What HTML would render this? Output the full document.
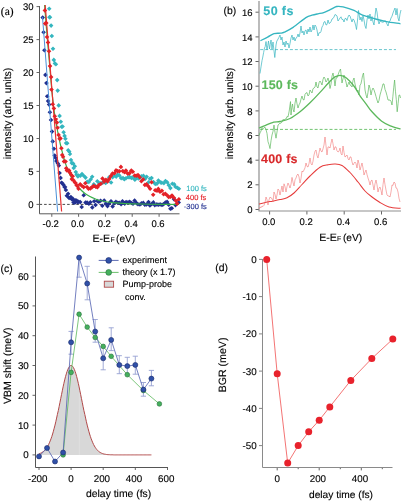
<!DOCTYPE html><html><head><meta charset="utf-8"><style>html,body{margin:0;padding:0;background:#fff;width:402px;height:501px;overflow:hidden}svg{display:block;will-change:transform}text{font-family:"Liberation Sans",sans-serif;text-rendering:geometricPrecision;stroke:currentColor;stroke-width:0.14px}</style></head><body>
<svg width="402" height="501" viewBox="0 0 402 501">
<text x="0.8" y="15" font-size="11.5" style="font-family:'Liberation Serif',serif">(a)</text>
<line x1="36.5" y1="204.4" x2="39.5" y2="204.4" stroke="#555" stroke-width="0.9"/>
<text x="33.5" y="207.6" font-size="9.5" text-anchor="end" fill="#000" style="color:#000" font-weight="normal">0</text>
<line x1="36.5" y1="171.4" x2="39.5" y2="171.4" stroke="#555" stroke-width="0.9"/>
<text x="33.5" y="174.6" font-size="9.5" text-anchor="end" fill="#000" style="color:#000" font-weight="normal">5</text>
<line x1="36.5" y1="138.5" x2="39.5" y2="138.5" stroke="#555" stroke-width="0.9"/>
<text x="33.5" y="141.7" font-size="9.5" text-anchor="end" fill="#000" style="color:#000" font-weight="normal">10</text>
<line x1="36.5" y1="105.5" x2="39.5" y2="105.5" stroke="#555" stroke-width="0.9"/>
<text x="33.5" y="108.7" font-size="9.5" text-anchor="end" fill="#000" style="color:#000" font-weight="normal">15</text>
<line x1="36.5" y1="72.5" x2="39.5" y2="72.5" stroke="#555" stroke-width="0.9"/>
<text x="33.5" y="75.7" font-size="9.5" text-anchor="end" fill="#000" style="color:#000" font-weight="normal">20</text>
<line x1="36.5" y1="39.6" x2="39.5" y2="39.6" stroke="#555" stroke-width="0.9"/>
<text x="33.5" y="42.8" font-size="9.5" text-anchor="end" fill="#000" style="color:#000" font-weight="normal">25</text>
<line x1="36.5" y1="6.6" x2="39.5" y2="6.6" stroke="#555" stroke-width="0.9"/>
<text x="33.5" y="9.8" font-size="9.5" text-anchor="end" fill="#000" style="color:#000" font-weight="normal">30</text>
<line x1="51.8" y1="214" x2="51.8" y2="216.8" stroke="#555" stroke-width="0.9"/>
<text x="50.7" y="227.2" font-size="9.5" text-anchor="middle" fill="#000" style="color:#000" font-weight="normal">-0.2</text>
<line x1="78.6" y1="214" x2="78.6" y2="216.8" stroke="#555" stroke-width="0.9"/>
<text x="77.5" y="227.2" font-size="9.5" text-anchor="middle" fill="#000" style="color:#000" font-weight="normal">0.0</text>
<line x1="105.4" y1="214" x2="105.4" y2="216.8" stroke="#555" stroke-width="0.9"/>
<text x="104.3" y="227.2" font-size="9.5" text-anchor="middle" fill="#000" style="color:#000" font-weight="normal">0.2</text>
<line x1="132.2" y1="214" x2="132.2" y2="216.8" stroke="#555" stroke-width="0.9"/>
<text x="131.1" y="227.2" font-size="9.5" text-anchor="middle" fill="#000" style="color:#000" font-weight="normal">0.4</text>
<line x1="159.1" y1="214" x2="159.1" y2="216.8" stroke="#555" stroke-width="0.9"/>
<text x="158.0" y="227.2" font-size="9.5" text-anchor="middle" fill="#000" style="color:#000" font-weight="normal">0.6</text>
<line x1="39.5" y1="204.4" x2="179" y2="204.4" stroke="#333" stroke-width="0.9" stroke-dasharray="2.6,2"/>
<path d="M42.7,15.3l2.3,2.3l-2.3,2.3l-2.3,-2.3zM43.6,30.0l2.3,2.3l-2.3,2.3l-2.3,-2.3zM44.4,48.0l2.3,2.3l-2.3,2.3l-2.3,-2.3zM45.4,72.6l2.3,2.3l-2.3,2.3l-2.3,-2.3zM46.4,80.8l2.3,2.3l-2.3,2.3l-2.3,-2.3zM47.2,94.0l2.3,2.3l-2.3,2.3l-2.3,-2.3zM48.1,98.8l2.3,2.3l-2.3,2.3l-2.3,-2.3zM49.1,102.3l2.3,2.3l-2.3,2.3l-2.3,-2.3zM49.9,110.0l2.3,2.3l-2.3,2.3l-2.3,-2.3zM51.0,117.7l2.3,2.3l-2.3,2.3l-2.3,-2.3zM52.0,129.3l2.3,2.3l-2.3,2.3l-2.3,-2.3zM52.7,139.1l2.3,2.3l-2.3,2.3l-2.3,-2.3zM53.9,146.4l2.3,2.3l-2.3,2.3l-2.3,-2.3zM54.7,153.3l2.3,2.3l-2.3,2.3l-2.3,-2.3zM55.5,155.4l2.3,2.3l-2.3,2.3l-2.3,-2.3zM56.4,158.8l2.3,2.3l-2.3,2.3l-2.3,-2.3zM57.9,161.2l2.3,2.3l-2.3,2.3l-2.3,-2.3zM58.8,163.3l2.3,2.3l-2.3,2.3l-2.3,-2.3zM59.6,170.7l2.3,2.3l-2.3,2.3l-2.3,-2.3zM60.6,175.6l2.3,2.3l-2.3,2.3l-2.3,-2.3zM61.5,180.4l2.3,2.3l-2.3,2.3l-2.3,-2.3zM62.4,180.9l2.3,2.3l-2.3,2.3l-2.3,-2.3zM63.4,182.5l2.3,2.3l-2.3,2.3l-2.3,-2.3zM64.5,184.7l2.3,2.3l-2.3,2.3l-2.3,-2.3zM65.1,184.7l2.3,2.3l-2.3,2.3l-2.3,-2.3zM65.9,187.7l2.3,2.3l-2.3,2.3l-2.3,-2.3zM66.8,193.4l2.3,2.3l-2.3,2.3l-2.3,-2.3zM68.1,191.5l2.3,2.3l-2.3,2.3l-2.3,-2.3zM68.8,195.5l2.3,2.3l-2.3,2.3l-2.3,-2.3zM69.9,195.6l2.3,2.3l-2.3,2.3l-2.3,-2.3zM70.9,194.8l2.3,2.3l-2.3,2.3l-2.3,-2.3zM71.8,196.9l2.3,2.3l-2.3,2.3l-2.3,-2.3zM73.0,196.6l2.3,2.3l-2.3,2.3l-2.3,-2.3zM73.5,200.1l2.3,2.3l-2.3,2.3l-2.3,-2.3zM74.9,200.3l2.3,2.3l-2.3,2.3l-2.3,-2.3zM75.8,197.9l2.3,2.3l-2.3,2.3l-2.3,-2.3zM76.9,198.5l2.3,2.3l-2.3,2.3l-2.3,-2.3zM77.6,199.9l2.3,2.3l-2.3,2.3l-2.3,-2.3zM78.6,199.4l2.3,2.3l-2.3,2.3l-2.3,-2.3zM80.2,199.8l2.3,2.3l-2.3,2.3l-2.3,-2.3zM81.7,204.7l2.3,2.3l-2.3,2.3l-2.3,-2.3zM83.7,192.9l2.3,2.3l-2.3,2.3l-2.3,-2.3zM85.5,200.3l2.3,2.3l-2.3,2.3l-2.3,-2.3zM87.1,200.3l2.3,2.3l-2.3,2.3l-2.3,-2.3zM88.9,201.5l2.3,2.3l-2.3,2.3l-2.3,-2.3zM90.4,200.0l2.3,2.3l-2.3,2.3l-2.3,-2.3zM92.3,205.1l2.3,2.3l-2.3,2.3l-2.3,-2.3zM94.2,199.0l2.3,2.3l-2.3,2.3l-2.3,-2.3zM95.5,202.7l2.3,2.3l-2.3,2.3l-2.3,-2.3zM97.3,198.7l2.3,2.3l-2.3,2.3l-2.3,-2.3zM98.8,199.4l2.3,2.3l-2.3,2.3l-2.3,-2.3zM100.6,198.5l2.3,2.3l-2.3,2.3l-2.3,-2.3zM102.3,203.5l2.3,2.3l-2.3,2.3l-2.3,-2.3zM104.2,198.2l2.3,2.3l-2.3,2.3l-2.3,-2.3zM105.9,201.4l2.3,2.3l-2.3,2.3l-2.3,-2.3zM107.5,203.8l2.3,2.3l-2.3,2.3l-2.3,-2.3zM109.2,200.9l2.3,2.3l-2.3,2.3l-2.3,-2.3zM111.0,198.9l2.3,2.3l-2.3,2.3l-2.3,-2.3zM112.6,204.1l2.3,2.3l-2.3,2.3l-2.3,-2.3zM114.3,200.8l2.3,2.3l-2.3,2.3l-2.3,-2.3zM115.9,199.6l2.3,2.3l-2.3,2.3l-2.3,-2.3zM117.6,200.4l2.3,2.3l-2.3,2.3l-2.3,-2.3zM119.2,200.4l2.3,2.3l-2.3,2.3l-2.3,-2.3zM121.1,202.0l2.3,2.3l-2.3,2.3l-2.3,-2.3zM122.5,198.9l2.3,2.3l-2.3,2.3l-2.3,-2.3zM124.7,201.3l2.3,2.3l-2.3,2.3l-2.3,-2.3zM126.1,199.8l2.3,2.3l-2.3,2.3l-2.3,-2.3zM128.0,200.1l2.3,2.3l-2.3,2.3l-2.3,-2.3zM129.7,199.4l2.3,2.3l-2.3,2.3l-2.3,-2.3zM131.4,200.7l2.3,2.3l-2.3,2.3l-2.3,-2.3zM133.0,201.4l2.3,2.3l-2.3,2.3l-2.3,-2.3zM134.6,198.2l2.3,2.3l-2.3,2.3l-2.3,-2.3zM136.5,200.8l2.3,2.3l-2.3,2.3l-2.3,-2.3zM138.0,201.9l2.3,2.3l-2.3,2.3l-2.3,-2.3zM139.9,202.2l2.3,2.3l-2.3,2.3l-2.3,-2.3zM141.4,201.1l2.3,2.3l-2.3,2.3l-2.3,-2.3zM143.3,200.6l2.3,2.3l-2.3,2.3l-2.3,-2.3zM144.8,202.5l2.3,2.3l-2.3,2.3l-2.3,-2.3zM146.5,202.2l2.3,2.3l-2.3,2.3l-2.3,-2.3zM148.5,199.8l2.3,2.3l-2.3,2.3l-2.3,-2.3zM149.9,203.1l2.3,2.3l-2.3,2.3l-2.3,-2.3zM151.8,201.6l2.3,2.3l-2.3,2.3l-2.3,-2.3zM153.4,200.1l2.3,2.3l-2.3,2.3l-2.3,-2.3zM154.8,202.8l2.3,2.3l-2.3,2.3l-2.3,-2.3zM156.9,202.1l2.3,2.3l-2.3,2.3l-2.3,-2.3zM158.3,202.5l2.3,2.3l-2.3,2.3l-2.3,-2.3zM160.1,202.1l2.3,2.3l-2.3,2.3l-2.3,-2.3zM162.0,202.6l2.3,2.3l-2.3,2.3l-2.3,-2.3zM163.5,201.9l2.3,2.3l-2.3,2.3l-2.3,-2.3zM165.4,200.2l2.3,2.3l-2.3,2.3l-2.3,-2.3zM167.1,199.6l2.3,2.3l-2.3,2.3l-2.3,-2.3zM168.7,202.5l2.3,2.3l-2.3,2.3l-2.3,-2.3zM170.4,206.5l2.3,2.3l-2.3,2.3l-2.3,-2.3zM171.8,206.0l2.3,2.3l-2.3,2.3l-2.3,-2.3zM173.9,196.8l2.3,2.3l-2.3,2.3l-2.3,-2.3zM175.5,202.8l2.3,2.3l-2.3,2.3l-2.3,-2.3zM176.9,201.4l2.3,2.3l-2.3,2.3l-2.3,-2.3zM178.7,200.2l2.3,2.3l-2.3,2.3l-2.3,-2.3z" fill="#223090"/>
<path d="M44.6,5.0 C44.9,9.2 45.8,20.8 46.6,30.0 C47.4,39.2 48.3,50.0 49.2,60.0 C50.1,70.0 51.0,81.7 51.8,90.0 C52.6,98.3 53.2,104.2 54.0,110.0 C54.8,115.8 55.7,120.3 56.5,125.0 C57.3,129.7 58.2,134.3 59.0,138.0 C59.8,141.7 60.3,144.2 61.0,147.0 C61.7,149.8 62.2,152.0 63.0,155.0 C63.8,158.0 64.8,161.7 66.0,165.0 C67.2,168.3 68.5,172.0 70.0,175.0 C71.5,178.0 73.3,180.7 75.0,183.0 C76.7,185.3 78.3,187.2 80.0,189.0 C81.7,190.8 83.3,192.2 85.0,193.5 C86.7,194.8 88.3,195.6 90.0,196.5 C91.7,197.4 93.3,198.1 95.0,198.8 C96.7,199.5 96.7,199.8 100.0,200.5 C103.3,201.2 108.3,202.2 115.0,202.8 C121.7,203.4 129.3,203.7 140.0,204.0 C150.7,204.3 172.5,204.4 179.0,204.5" fill="none" stroke="#38b04a" stroke-width="1.2"/>
<line x1="42.5" y1="17" x2="57.6" y2="211.5" stroke="#4a90d8" stroke-width="1"/>
<line x1="45.2" y1="5" x2="61.6" y2="211.5" stroke="#e83030" stroke-width="1.2"/>
<path d="M49.4,14.9l2.3,2.3l-2.3,2.3l-2.3,-2.3zM50.0,15.0l2.3,2.3l-2.3,2.3l-2.3,-2.3zM51.1,23.3l2.3,2.3l-2.3,2.3l-2.3,-2.3zM51.8,33.7l2.3,2.3l-2.3,2.3l-2.3,-2.3zM53.0,46.4l2.3,2.3l-2.3,2.3l-2.3,-2.3zM53.8,57.6l2.3,2.3l-2.3,2.3l-2.3,-2.3zM54.9,61.1l2.3,2.3l-2.3,2.3l-2.3,-2.3zM55.9,62.0l2.3,2.3l-2.3,2.3l-2.3,-2.3zM57.2,77.8l2.3,2.3l-2.3,2.3l-2.3,-2.3zM57.7,88.3l2.3,2.3l-2.3,2.3l-2.3,-2.3zM58.7,103.1l2.3,2.3l-2.3,2.3l-2.3,-2.3zM59.6,113.6l2.3,2.3l-2.3,2.3l-2.3,-2.3zM60.8,119.5l2.3,2.3l-2.3,2.3l-2.3,-2.3zM61.6,124.4l2.3,2.3l-2.3,2.3l-2.3,-2.3zM62.6,124.2l2.3,2.3l-2.3,2.3l-2.3,-2.3zM63.6,129.9l2.3,2.3l-2.3,2.3l-2.3,-2.3zM64.6,133.6l2.3,2.3l-2.3,2.3l-2.3,-2.3zM65.4,136.5l2.3,2.3l-2.3,2.3l-2.3,-2.3zM66.1,140.8l2.3,2.3l-2.3,2.3l-2.3,-2.3zM67.2,141.0l2.3,2.3l-2.3,2.3l-2.3,-2.3zM68.2,147.9l2.3,2.3l-2.3,2.3l-2.3,-2.3zM69.2,149.3l2.3,2.3l-2.3,2.3l-2.3,-2.3zM69.9,151.6l2.3,2.3l-2.3,2.3l-2.3,-2.3zM71.0,157.7l2.3,2.3l-2.3,2.3l-2.3,-2.3zM71.8,160.8l2.3,2.3l-2.3,2.3l-2.3,-2.3zM73.1,161.2l2.3,2.3l-2.3,2.3l-2.3,-2.3zM73.7,165.7l2.3,2.3l-2.3,2.3l-2.3,-2.3zM74.8,163.9l2.3,2.3l-2.3,2.3l-2.3,-2.3zM75.8,169.8l2.3,2.3l-2.3,2.3l-2.3,-2.3zM76.6,172.5l2.3,2.3l-2.3,2.3l-2.3,-2.3zM77.9,174.2l2.3,2.3l-2.3,2.3l-2.3,-2.3zM78.4,173.2l2.3,2.3l-2.3,2.3l-2.3,-2.3zM80.5,173.3l2.3,2.3l-2.3,2.3l-2.3,-2.3zM82.0,171.7l2.3,2.3l-2.3,2.3l-2.3,-2.3zM83.7,173.4l2.3,2.3l-2.3,2.3l-2.3,-2.3zM85.5,175.3l2.3,2.3l-2.3,2.3l-2.3,-2.3zM87.2,179.4l2.3,2.3l-2.3,2.3l-2.3,-2.3zM88.8,179.7l2.3,2.3l-2.3,2.3l-2.3,-2.3zM90.6,177.2l2.3,2.3l-2.3,2.3l-2.3,-2.3zM92.2,174.4l2.3,2.3l-2.3,2.3l-2.3,-2.3zM93.8,182.0l2.3,2.3l-2.3,2.3l-2.3,-2.3zM95.6,184.1l2.3,2.3l-2.3,2.3l-2.3,-2.3zM97.3,178.9l2.3,2.3l-2.3,2.3l-2.3,-2.3zM99.0,180.6l2.3,2.3l-2.3,2.3l-2.3,-2.3zM100.9,181.0l2.3,2.3l-2.3,2.3l-2.3,-2.3zM102.4,180.4l2.3,2.3l-2.3,2.3l-2.3,-2.3zM103.9,179.9l2.3,2.3l-2.3,2.3l-2.3,-2.3zM105.7,180.7l2.3,2.3l-2.3,2.3l-2.3,-2.3zM107.4,178.4l2.3,2.3l-2.3,2.3l-2.3,-2.3zM109.2,175.0l2.3,2.3l-2.3,2.3l-2.3,-2.3zM111.1,180.2l2.3,2.3l-2.3,2.3l-2.3,-2.3zM112.6,174.9l2.3,2.3l-2.3,2.3l-2.3,-2.3zM114.3,173.5l2.3,2.3l-2.3,2.3l-2.3,-2.3zM116.2,174.3l2.3,2.3l-2.3,2.3l-2.3,-2.3zM117.7,172.4l2.3,2.3l-2.3,2.3l-2.3,-2.3zM119.3,173.1l2.3,2.3l-2.3,2.3l-2.3,-2.3zM121.2,176.0l2.3,2.3l-2.3,2.3l-2.3,-2.3zM123.0,175.8l2.3,2.3l-2.3,2.3l-2.3,-2.3zM124.3,177.0l2.3,2.3l-2.3,2.3l-2.3,-2.3zM126.0,175.9l2.3,2.3l-2.3,2.3l-2.3,-2.3zM128.2,174.9l2.3,2.3l-2.3,2.3l-2.3,-2.3zM129.6,174.8l2.3,2.3l-2.3,2.3l-2.3,-2.3zM131.4,175.6l2.3,2.3l-2.3,2.3l-2.3,-2.3zM132.9,175.3l2.3,2.3l-2.3,2.3l-2.3,-2.3zM134.9,177.4l2.3,2.3l-2.3,2.3l-2.3,-2.3zM136.5,174.7l2.3,2.3l-2.3,2.3l-2.3,-2.3zM138.3,176.2l2.3,2.3l-2.3,2.3l-2.3,-2.3zM140.0,175.5l2.3,2.3l-2.3,2.3l-2.3,-2.3zM141.4,174.0l2.3,2.3l-2.3,2.3l-2.3,-2.3zM143.4,173.5l2.3,2.3l-2.3,2.3l-2.3,-2.3zM145.0,176.6l2.3,2.3l-2.3,2.3l-2.3,-2.3zM146.7,174.4l2.3,2.3l-2.3,2.3l-2.3,-2.3zM148.6,180.0l2.3,2.3l-2.3,2.3l-2.3,-2.3zM150.0,176.4l2.3,2.3l-2.3,2.3l-2.3,-2.3zM151.6,175.7l2.3,2.3l-2.3,2.3l-2.3,-2.3zM153.5,179.7l2.3,2.3l-2.3,2.3l-2.3,-2.3zM155.3,181.6l2.3,2.3l-2.3,2.3l-2.3,-2.3zM157.0,181.3l2.3,2.3l-2.3,2.3l-2.3,-2.3zM158.4,178.2l2.3,2.3l-2.3,2.3l-2.3,-2.3zM160.7,180.2l2.3,2.3l-2.3,2.3l-2.3,-2.3zM161.8,180.4l2.3,2.3l-2.3,2.3l-2.3,-2.3zM163.9,180.8l2.3,2.3l-2.3,2.3l-2.3,-2.3zM165.5,178.8l2.3,2.3l-2.3,2.3l-2.3,-2.3zM167.2,179.9l2.3,2.3l-2.3,2.3l-2.3,-2.3zM168.8,182.9l2.3,2.3l-2.3,2.3l-2.3,-2.3zM170.4,185.8l2.3,2.3l-2.3,2.3l-2.3,-2.3zM172.4,181.4l2.3,2.3l-2.3,2.3l-2.3,-2.3zM174.2,181.9l2.3,2.3l-2.3,2.3l-2.3,-2.3zM175.4,184.4l2.3,2.3l-2.3,2.3l-2.3,-2.3zM177.3,185.4l2.3,2.3l-2.3,2.3l-2.3,-2.3zM178.9,186.4l2.3,2.3l-2.3,2.3l-2.3,-2.3z" fill="#34b6bf"/>
<path d="M45.2,21.3l2.3,2.3l-2.3,2.3l-2.3,-2.3zM46.3,20.7l2.3,2.3l-2.3,2.3l-2.3,-2.3zM47.0,34.7l2.3,2.3l-2.3,2.3l-2.3,-2.3zM48.0,40.1l2.3,2.3l-2.3,2.3l-2.3,-2.3zM49.0,48.9l2.3,2.3l-2.3,2.3l-2.3,-2.3zM50.0,63.8l2.3,2.3l-2.3,2.3l-2.3,-2.3zM51.1,74.8l2.3,2.3l-2.3,2.3l-2.3,-2.3zM51.5,87.3l2.3,2.3l-2.3,2.3l-2.3,-2.3zM52.8,102.0l2.3,2.3l-2.3,2.3l-2.3,-2.3zM53.9,106.1l2.3,2.3l-2.3,2.3l-2.3,-2.3zM54.8,114.0l2.3,2.3l-2.3,2.3l-2.3,-2.3zM55.8,116.8l2.3,2.3l-2.3,2.3l-2.3,-2.3zM56.9,120.3l2.3,2.3l-2.3,2.3l-2.3,-2.3zM57.6,125.4l2.3,2.3l-2.3,2.3l-2.3,-2.3zM58.6,132.6l2.3,2.3l-2.3,2.3l-2.3,-2.3zM59.6,136.5l2.3,2.3l-2.3,2.3l-2.3,-2.3zM60.5,136.1l2.3,2.3l-2.3,2.3l-2.3,-2.3zM61.4,145.9l2.3,2.3l-2.3,2.3l-2.3,-2.3zM62.2,152.7l2.3,2.3l-2.3,2.3l-2.3,-2.3zM63.0,154.5l2.3,2.3l-2.3,2.3l-2.3,-2.3zM64.0,159.1l2.3,2.3l-2.3,2.3l-2.3,-2.3zM65.6,159.2l2.3,2.3l-2.3,2.3l-2.3,-2.3zM66.2,166.0l2.3,2.3l-2.3,2.3l-2.3,-2.3zM66.9,168.1l2.3,2.3l-2.3,2.3l-2.3,-2.3zM68.1,168.2l2.3,2.3l-2.3,2.3l-2.3,-2.3zM69.1,168.3l2.3,2.3l-2.3,2.3l-2.3,-2.3zM70.0,170.5l2.3,2.3l-2.3,2.3l-2.3,-2.3zM71.2,172.5l2.3,2.3l-2.3,2.3l-2.3,-2.3zM71.8,176.8l2.3,2.3l-2.3,2.3l-2.3,-2.3zM72.7,174.0l2.3,2.3l-2.3,2.3l-2.3,-2.3zM73.6,178.1l2.3,2.3l-2.3,2.3l-2.3,-2.3zM74.9,180.1l2.3,2.3l-2.3,2.3l-2.3,-2.3zM75.6,180.8l2.3,2.3l-2.3,2.3l-2.3,-2.3zM76.6,182.9l2.3,2.3l-2.3,2.3l-2.3,-2.3zM77.5,183.9l2.3,2.3l-2.3,2.3l-2.3,-2.3zM78.5,186.4l2.3,2.3l-2.3,2.3l-2.3,-2.3zM80.2,181.9l2.3,2.3l-2.3,2.3l-2.3,-2.3zM81.8,183.4l2.3,2.3l-2.3,2.3l-2.3,-2.3zM83.7,184.8l2.3,2.3l-2.3,2.3l-2.3,-2.3zM85.3,180.9l2.3,2.3l-2.3,2.3l-2.3,-2.3zM87.0,184.7l2.3,2.3l-2.3,2.3l-2.3,-2.3zM88.5,186.5l2.3,2.3l-2.3,2.3l-2.3,-2.3zM90.4,186.1l2.3,2.3l-2.3,2.3l-2.3,-2.3zM92.1,184.8l2.3,2.3l-2.3,2.3l-2.3,-2.3zM93.8,183.6l2.3,2.3l-2.3,2.3l-2.3,-2.3zM95.9,184.5l2.3,2.3l-2.3,2.3l-2.3,-2.3zM97.4,184.9l2.3,2.3l-2.3,2.3l-2.3,-2.3zM98.9,182.8l2.3,2.3l-2.3,2.3l-2.3,-2.3zM100.9,181.5l2.3,2.3l-2.3,2.3l-2.3,-2.3zM102.5,176.3l2.3,2.3l-2.3,2.3l-2.3,-2.3zM104.1,179.4l2.3,2.3l-2.3,2.3l-2.3,-2.3zM105.9,177.5l2.3,2.3l-2.3,2.3l-2.3,-2.3zM107.6,179.1l2.3,2.3l-2.3,2.3l-2.3,-2.3zM109.2,176.6l2.3,2.3l-2.3,2.3l-2.3,-2.3zM110.9,173.6l2.3,2.3l-2.3,2.3l-2.3,-2.3zM112.5,171.3l2.3,2.3l-2.3,2.3l-2.3,-2.3zM114.5,170.9l2.3,2.3l-2.3,2.3l-2.3,-2.3zM116.0,168.1l2.3,2.3l-2.3,2.3l-2.3,-2.3zM117.6,168.8l2.3,2.3l-2.3,2.3l-2.3,-2.3zM119.4,169.0l2.3,2.3l-2.3,2.3l-2.3,-2.3zM120.9,164.6l2.3,2.3l-2.3,2.3l-2.3,-2.3zM122.8,168.8l2.3,2.3l-2.3,2.3l-2.3,-2.3zM124.5,169.8l2.3,2.3l-2.3,2.3l-2.3,-2.3zM125.9,168.3l2.3,2.3l-2.3,2.3l-2.3,-2.3zM127.7,171.3l2.3,2.3l-2.3,2.3l-2.3,-2.3zM129.4,171.1l2.3,2.3l-2.3,2.3l-2.3,-2.3zM131.3,168.3l2.3,2.3l-2.3,2.3l-2.3,-2.3zM132.8,169.5l2.3,2.3l-2.3,2.3l-2.3,-2.3zM134.7,173.2l2.3,2.3l-2.3,2.3l-2.3,-2.3zM136.3,173.5l2.3,2.3l-2.3,2.3l-2.3,-2.3zM138.0,172.7l2.3,2.3l-2.3,2.3l-2.3,-2.3zM139.7,174.9l2.3,2.3l-2.3,2.3l-2.3,-2.3zM141.4,178.9l2.3,2.3l-2.3,2.3l-2.3,-2.3zM143.1,177.1l2.3,2.3l-2.3,2.3l-2.3,-2.3zM144.9,182.6l2.3,2.3l-2.3,2.3l-2.3,-2.3zM146.6,181.9l2.3,2.3l-2.3,2.3l-2.3,-2.3zM148.3,184.0l2.3,2.3l-2.3,2.3l-2.3,-2.3zM150.1,186.4l2.3,2.3l-2.3,2.3l-2.3,-2.3zM151.6,179.9l2.3,2.3l-2.3,2.3l-2.3,-2.3zM153.2,192.4l2.3,2.3l-2.3,2.3l-2.3,-2.3zM155.2,188.0l2.3,2.3l-2.3,2.3l-2.3,-2.3zM157.0,188.5l2.3,2.3l-2.3,2.3l-2.3,-2.3zM158.3,186.6l2.3,2.3l-2.3,2.3l-2.3,-2.3zM160.0,189.4l2.3,2.3l-2.3,2.3l-2.3,-2.3zM161.9,188.5l2.3,2.3l-2.3,2.3l-2.3,-2.3zM163.6,192.0l2.3,2.3l-2.3,2.3l-2.3,-2.3zM165.3,191.5l2.3,2.3l-2.3,2.3l-2.3,-2.3zM166.8,192.7l2.3,2.3l-2.3,2.3l-2.3,-2.3zM168.7,194.6l2.3,2.3l-2.3,2.3l-2.3,-2.3zM170.5,194.5l2.3,2.3l-2.3,2.3l-2.3,-2.3zM172.0,193.3l2.3,2.3l-2.3,2.3l-2.3,-2.3zM173.9,195.5l2.3,2.3l-2.3,2.3l-2.3,-2.3zM175.8,198.4l2.3,2.3l-2.3,2.3l-2.3,-2.3zM177.1,201.3l2.3,2.3l-2.3,2.3l-2.3,-2.3zM178.9,196.9l2.3,2.3l-2.3,2.3l-2.3,-2.3z" fill="#e42228"/>
<path d="M49.2,6.4l2.3,2.3l-2.3,2.3l-2.3,-2.3z" fill="#34b6bf"/>
<path d="M44.9,8.1l2.3,2.3l-2.3,2.3l-2.3,-2.3z" fill="#e42228"/>
<path d="M39.5,6 V213.8 H179.5" fill="none" stroke="#5a5a5a" stroke-width="1"/>
<text x="186.3" y="191.0" font-size="7.5" text-anchor="start" fill="#34b6bf" style="color:#34b6bf" font-weight="normal">100 fs</text>
<text x="185.8" y="200.0" font-size="7.5" text-anchor="start" fill="#e42228" style="color:#e42228" font-weight="normal">400 fs</text>
<text x="183.8" y="209.0" font-size="7.5" text-anchor="start" fill="#223090" style="color:#223090" font-weight="normal">-300 fs</text>
<text x="92.5" y="241.7" font-size="10.6" text-anchor="start" fill="#000" style="color:#000" font-weight="normal">E-E</text>
<text x="110.4" y="241.7" font-size="6.9" style="stroke-width:0.1px">F</text>
<text x="116.0" y="241.7" font-size="10.2" text-anchor="start" fill="#000" style="color:#000" font-weight="normal">(eV)</text>
<text transform="translate(10.9,113.5) rotate(-90)" font-size="10.5" text-anchor="middle">intensity (arb. units)</text>
<text x="223.6" y="14.4" font-size="10.4" text-anchor="start" fill="#000" style="color:#000" font-weight="normal">(b)</text>
<line x1="255.5" y1="209.5" x2="259" y2="209.5" stroke="#555" stroke-width="0.9"/>
<text x="252.5" y="213.1" font-size="9.5" text-anchor="end" fill="#000" style="color:#000" font-weight="normal">0</text>
<line x1="255.5" y1="184.8" x2="259" y2="184.8" stroke="#555" stroke-width="0.9"/>
<text x="252.5" y="188.4" font-size="9.5" text-anchor="end" fill="#000" style="color:#000" font-weight="normal">2</text>
<line x1="255.5" y1="160.2" x2="259" y2="160.2" stroke="#555" stroke-width="0.9"/>
<text x="252.5" y="163.8" font-size="9.5" text-anchor="end" fill="#000" style="color:#000" font-weight="normal">4</text>
<line x1="255.5" y1="135.5" x2="259" y2="135.5" stroke="#555" stroke-width="0.9"/>
<text x="252.5" y="139.1" font-size="9.5" text-anchor="end" fill="#000" style="color:#000" font-weight="normal">6</text>
<line x1="255.5" y1="110.9" x2="259" y2="110.9" stroke="#555" stroke-width="0.9"/>
<text x="252.5" y="114.5" font-size="9.5" text-anchor="end" fill="#000" style="color:#000" font-weight="normal">8</text>
<line x1="255.5" y1="86.2" x2="259" y2="86.2" stroke="#555" stroke-width="0.9"/>
<text x="252.5" y="89.8" font-size="9.5" text-anchor="end" fill="#000" style="color:#000" font-weight="normal">10</text>
<line x1="255.5" y1="61.5" x2="259" y2="61.5" stroke="#555" stroke-width="0.9"/>
<text x="252.5" y="65.1" font-size="9.5" text-anchor="end" fill="#000" style="color:#000" font-weight="normal">12</text>
<line x1="255.5" y1="36.9" x2="259" y2="36.9" stroke="#555" stroke-width="0.9"/>
<text x="252.5" y="40.5" font-size="9.5" text-anchor="end" fill="#000" style="color:#000" font-weight="normal">14</text>
<line x1="255.5" y1="12.2" x2="259" y2="12.2" stroke="#555" stroke-width="0.9"/>
<text x="252.5" y="15.8" font-size="9.5" text-anchor="end" fill="#000" style="color:#000" font-weight="normal">16</text>
<line x1="269.6" y1="211" x2="269.6" y2="214.5" stroke="#555" stroke-width="0.9"/>
<text x="268.8" y="225.0" font-size="9.5" text-anchor="middle" fill="#000" style="color:#000" font-weight="normal">0.0</text>
<line x1="306.9" y1="211" x2="306.9" y2="214.5" stroke="#555" stroke-width="0.9"/>
<text x="306.1" y="225.0" font-size="9.5" text-anchor="middle" fill="#000" style="color:#000" font-weight="normal">0.2</text>
<line x1="344.2" y1="211" x2="344.2" y2="214.5" stroke="#555" stroke-width="0.9"/>
<text x="343.4" y="225.0" font-size="9.5" text-anchor="middle" fill="#000" style="color:#000" font-weight="normal">0.4</text>
<line x1="381.5" y1="211" x2="381.5" y2="214.5" stroke="#555" stroke-width="0.9"/>
<text x="380.7" y="225.0" font-size="9.5" text-anchor="middle" fill="#000" style="color:#000" font-weight="normal">0.6</text>
<path d="M259,1 V211 H401" fill="none" stroke="#8f8f8f" stroke-width="1.2"/>
<text x="319.2" y="241.2" font-size="10.6" text-anchor="start" fill="#000" style="color:#000" font-weight="normal">E-E</text>
<text x="337" y="241.2" font-size="6.9" style="stroke-width:0.1px">F</text>
<text x="342.9" y="241.2" font-size="10.2" text-anchor="start" fill="#000" style="color:#000" font-weight="normal">(eV)</text>
<text transform="translate(232.9,113.45) rotate(-90)" font-size="10.5" text-anchor="middle">intensity (arb. units)</text>
<line x1="260.2" y1="49.6" x2="396" y2="49.6" stroke="#6cc6ce" stroke-width="1" stroke-dasharray="3,1.95"/>
<line x1="260.2" y1="129.4" x2="396" y2="129.4" stroke="#72c472" stroke-width="1" stroke-dasharray="3,1.95"/>
<path d="M260.4,40.7 C261.6,40.1 265.3,38.3 267.6,37.1 C269.9,35.9 271.9,34.2 274.0,33.6 C276.1,33.0 278.7,33.4 280.4,33.2 C282.1,33.0 282.3,33.2 284.4,32.2 C286.5,31.2 289.5,29.8 293.1,27.4 C296.7,25.0 302.8,19.6 305.9,17.6 C309.0,15.6 310.0,15.8 312.0,15.2 C314.0,14.6 316.1,14.2 318.0,13.8 C319.9,13.4 321.7,13.3 323.7,12.6 C325.7,11.9 328.0,10.7 330.2,9.7 C332.4,8.7 334.5,7.0 336.6,6.5 C338.8,6.0 340.2,6.2 343.1,6.9 C346.0,7.6 350.8,9.0 354.0,10.4 C357.2,11.8 359.0,13.8 362.6,15.2 C366.2,16.6 371.6,17.9 375.6,19.0 C379.6,20.1 382.2,20.8 386.4,21.6 C390.5,22.4 398.1,23.4 400.5,23.8" fill="none" stroke="#35b5c0" stroke-width="1.3"/>
<path d="M260.0,73.5 L261.0,66.9 L262.0,60.7 L262.8,57.0 L263.6,52.7 L264.5,48.0 L265.2,46.6 L266.0,41.5 L267.0,50.0 L267.8,45.3 L268.5,41.0 L269.5,49.0 L270.2,44.5 L271.0,40.0 L272.0,49.0 L273.0,42.0 L273.9,50.1 L274.8,57.5 L276.0,45.0 L276.8,41.1 L277.5,40.0 L278.8,37.6 L280.0,35.0 L281.0,40.0 L282.0,37.0 L283.0,45.0 L284.0,42.0 L285.0,47.0 L286.0,41.0 L287.0,44.5 L288.0,43.0 L289.0,48.0 L290.0,43.6 L291.0,38.0 L292.0,35.0 L293.0,40.0 L294.0,37.0 L295.0,41.0 L296.0,38.0 L297.0,37.3 L298.0,34.0 L299.0,37.0 L300.0,33.0 L301.0,26.0 L302.0,33.0 L303.0,31.0 L304.0,35.0 L305.0,30.7 L306.0,30.0 L307.0,34.0 L308.0,29.0 L309.0,32.0 L310.0,27.0 L311.0,32.0 L312.0,30.0 L313.0,25.0 L314.0,30.0 L315.0,25.0 L316.0,26.6 L317.0,30.0 L318.0,36.0 L319.0,32.7 L320.0,33.0 L321.0,31.4 L322.0,27.0 L323.0,25.4 L324.0,22.0 L325.0,21.5 L326.0,25.0 L327.0,24.6 L328.0,20.0 L329.0,23.5 L330.0,23.0 L331.0,21.7 L332.0,19.0 L333.0,18.5 L334.0,17.0 L335.0,14.5 L336.0,15.0 L337.0,15.9 L338.0,21.0 L339.0,19.6 L340.0,18.0 L341.0,16.8 L342.0,19.5 L343.0,19.4 L344.0,22.0 L345.0,18.5 L346.0,18.4 L347.0,20.5 L348.0,17.0 L349.0,15.0 L350.0,16.0 L351.0,19.0 L352.0,22.0 L353.0,18.9 L354.0,20.0 L355.0,23.0 L355.8,26.1 L356.5,29.5 L357.0,25.0 L357.8,17.5 L358.5,10.5 L359.0,14.0 L360.0,20.0 L361.0,17.0 L362.0,21.5 L363.0,15.5 L364.0,20.0 L365.0,25.8 L366.0,28.5 L367.0,20.0 L368.0,15.0 L369.0,19.0 L370.0,14.0 L371.0,21.0 L372.0,16.5 L373.0,22.0 L374.0,25.0 L375.0,16.0 L376.0,8.0 L377.0,12.0 L378.0,20.0 L379.0,24.0 L380.0,21.0 L381.0,21.6 L382.0,22.0 L383.0,22.4 L384.0,21.5 L385.0,20.5 L386.0,22.0 L387.0,24.0 L388.0,26.0 L389.0,22.0 L390.0,21.0 L391.0,18.0 L392.0,16.2 L393.0,13.0 L394.0,10.3 L395.0,8.0 L396.0,15.0 L397.0,8.5 L398.0,18.0 L399.0,21.0 L400.0,14.0 L401.0,10.0" fill="none" stroke="#35b5c0" stroke-width="0.7" stroke-linejoin="round"/>
<path d="M259.0,128.0 C260.0,127.6 262.6,126.6 265.0,125.6 C267.4,124.6 271.2,122.9 273.7,122.2 C276.2,121.5 277.3,122.1 280.0,121.5 C282.7,120.9 286.7,120.1 290.0,118.5 C293.3,116.9 296.7,114.4 300.0,111.8 C303.3,109.2 306.7,106.0 310.0,102.8 C313.3,99.6 316.7,96.0 320.0,92.4 C323.3,88.8 327.5,83.8 330.0,81.2 C332.5,78.6 333.3,77.9 335.0,76.9 C336.7,75.9 338.3,75.3 340.0,75.3 C341.7,75.3 343.3,76.0 345.0,77.0 C346.7,78.0 348.3,79.8 350.0,81.5 C351.7,83.2 353.3,85.1 355.0,87.5 C356.7,89.9 358.2,93.1 360.0,95.8 C361.8,98.5 364.0,101.1 366.0,103.8 C368.0,106.5 369.4,108.9 372.0,111.8 C374.6,114.7 378.6,118.9 381.7,121.2 C384.8,123.5 387.1,124.5 390.3,125.8 C393.5,127.1 398.9,128.5 400.6,129.0" fill="none" stroke="#5cb85c" stroke-width="1.3"/>
<path d="M259.0,135.6 L260.0,132.9 L261.0,131.0 L262.0,127.7 L263.0,128.6 L264.0,128.0 L265.0,127.2 L266.0,129.5 L267.0,133.4 L268.0,141.7 L269.0,144.6 L270.0,148.6 L271.0,140.8 L272.0,135.0 L273.0,131.4 L274.0,125.1 L275.0,132.5 L276.0,138.2 L277.0,132.0 L278.0,125.0 L279.0,124.3 L280.0,123.0 L281.0,123.2 L282.0,122.0 L283.0,119.4 L284.0,120.0 L285.0,119.2 L286.0,119.0 L287.0,116.5 L288.0,117.0 L289.2,111.1 L290.5,101.6 L291.0,115.0 L291.8,107.6 L292.5,104.0 L293.2,109.4 L294.0,112.0 L295.0,103.1 L296.0,98.0 L297.0,103.8 L298.0,108.0 L299.0,104.8 L300.0,103.0 L301.0,99.1 L302.0,96.0 L303.0,99.5 L304.0,100.0 L305.0,94.4 L306.0,93.0 L307.0,92.6 L308.0,96.0 L309.0,94.8 L310.0,90.0 L311.0,91.5 L312.0,93.0 L313.0,88.7 L314.0,88.0 L315.0,87.1 L316.0,82.0 L317.0,87.0 L318.0,88.0 L319.0,82.8 L320.0,81.0 L321.0,82.7 L322.0,85.0 L323.0,79.4 L324.0,77.0 L325.0,78.7 L326.0,82.0 L327.0,80.5 L328.0,78.0 L329.0,81.8 L330.0,88.5 L331.0,84.2 L332.0,76.2 L333.0,73.0 L334.0,78.1 L335.0,86.0 L336.0,78.0 L337.0,77.9 L338.0,75.0 L339.2,71.6 L340.5,69.0 L341.5,78.0 L342.0,83.0 L343.0,78.6 L344.0,75.0 L345.0,78.9 L346.0,82.0 L347.0,87.0 L348.0,84.4 L349.0,82.0 L350.0,85.0 L351.0,85.5 L352.0,87.0 L353.0,80.4 L354.0,78.0 L355.0,84.0 L356.0,88.0 L357.0,91.1 L358.0,90.0 L359.0,95.0 L360.0,85.0 L360.9,84.1 L361.8,79.7 L362.6,75.4 L363.5,73.0 L364.2,80.9 L365.0,90.0 L366.0,94.8 L367.0,98.0 L368.0,92.3 L369.0,85.0 L370.0,88.3 L371.0,95.0 L372.0,90.3 L373.0,88.0 L374.0,89.9 L375.0,93.0 L376.0,96.5 L377.0,100.0 L378.0,103.0 L379.0,100.4 L380.0,95.0 L381.0,91.5 L382.0,88.0 L383.0,83.9 L384.0,84.0 L385.0,89.4 L386.0,92.0 L387.0,95.7 L388.0,100.0 L389.0,100.1 L390.0,100.0 L391.0,101.3 L392.0,105.0 L392.9,96.3 L393.7,87.8 L394.6,80.0 L395.5,91.8 L396.3,99.5 L397.2,111.8 L398.1,103.6 L399.0,95.0 L399.8,95.1 L400.5,98.0" fill="none" stroke="#5cb85c" stroke-width="0.7" stroke-linejoin="round"/>
<path d="M259.0,204.0 C260.8,203.6 266.5,202.3 270.0,201.6 C273.5,200.9 277.2,200.2 280.0,199.6 C282.8,199.0 284.7,198.9 287.0,197.8 C289.3,196.7 291.5,195.2 294.0,193.0 C296.5,190.8 299.3,187.3 302.0,184.5 C304.7,181.7 307.0,178.9 310.0,176.0 C313.0,173.1 317.0,169.1 320.0,167.2 C323.0,165.3 325.5,165.3 328.0,164.8 C330.5,164.3 332.7,163.9 335.0,164.0 C337.3,164.1 339.5,164.1 342.0,165.5 C344.5,166.9 347.3,169.8 350.0,172.5 C352.7,175.2 355.5,178.9 358.0,182.0 C360.5,185.1 362.7,188.5 365.0,191.0 C367.3,193.5 369.5,195.1 372.0,197.0 C374.5,198.9 377.2,200.8 380.0,202.5 C382.8,204.2 385.6,206.0 389.0,207.0 C392.4,208.0 398.7,208.1 400.6,208.3" fill="none" stroke="#e63c3c" stroke-width="1.05"/>
<path d="M259.0,208.9 L260.0,206.9 L261.0,207.8 L262.0,206.0 L263.0,206.5 L264.0,205.3 L265.0,202.7 L266.0,197.0 L267.0,199.6 L268.0,205.0 L269.0,199.8 L270.0,197.0 L271.0,198.0 L272.0,198.4 L273.0,202.0 L274.0,192.0 L275.0,194.3 L276.0,199.0 L277.0,195.0 L278.0,189.0 L279.0,190.4 L280.0,195.0 L281.0,190.6 L282.0,186.0 L283.0,192.0 L284.0,183.8 L285.0,186.6 L286.0,192.0 L287.0,186.6 L288.0,183.0 L289.0,185.2 L290.0,188.0 L291.0,184.2 L292.0,177.4 L293.0,182.2 L294.0,186.0 L295.0,179.9 L296.0,178.0 L297.0,175.0 L298.0,174.0 L299.0,176.9 L300.0,183.0 L301.0,178.6 L302.0,171.0 L303.0,171.9 L304.0,170.0 L305.0,167.8 L306.0,163.0 L307.0,166.4 L308.0,167.0 L309.0,163.6 L310.0,158.0 L311.0,163.5 L312.0,165.0 L313.0,161.3 L314.0,155.0 L315.0,151.4 L316.0,150.0 L317.0,155.5 L318.0,158.0 L319.0,152.9 L320.0,148.0 L321.0,151.1 L322.0,152.0 L323.0,148.8 L324.0,145.0 L325.0,137.0 L326.0,145.7 L327.0,155.0 L328.0,147.0 L329.0,146.9 L330.0,148.0 L331.0,143.2 L332.0,139.0 L333.0,143.7 L334.0,150.0 L335.0,146.8 L336.0,147.0 L337.0,150.9 L338.0,152.0 L339.0,151.3 L340.0,148.0 L341.0,153.6 L342.0,155.0 L343.0,146.0 L344.0,152.3 L345.0,157.0 L346.0,156.2 L347.0,155.0 L348.0,158.6 L349.0,160.0 L350.0,156.9 L351.0,157.0 L352.0,161.8 L353.0,165.0 L354.0,163.3 L355.0,162.0 L356.0,163.6 L357.0,168.0 L358.0,160.0 L359.0,163.7 L360.0,170.0 L361.0,166.6 L362.0,163.0 L363.0,167.9 L364.0,175.0 L365.0,172.3 L366.0,170.0 L367.0,174.5 L368.0,178.0 L369.0,181.0 L370.0,185.0 L371.0,180.9 L372.0,180.0 L373.0,185.0 L374.0,190.0 L375.0,183.8 L376.0,180.0 L377.0,184.8 L378.0,192.0 L379.0,188.2 L380.0,187.0 L381.0,190.4 L382.0,195.0 L383.0,184.6 L384.0,178.0 L385.0,184.7 L386.0,190.0 L387.0,195.0 L388.0,196.0 L389.0,196.0 L390.0,197.0 L391.0,192.0 L392.0,185.0 L393.0,185.4 L394.0,182.0 L395.0,183.0 L396.0,188.0 L397.0,188.4 L398.0,192.0 L399.0,198.3 L400.0,202.0" fill="none" stroke="#f06a6a" stroke-width="0.55" stroke-linejoin="round"/>
<text x="263.3" y="14.8" font-size="12.5" text-anchor="start" fill="#35b5c0" style="color:#35b5c0" font-weight="bold" letter-spacing="0.4">50 fs</text>
<text x="261.5" y="88.7" font-size="12.5" text-anchor="start" fill="#5cb85c" style="color:#5cb85c" font-weight="bold" letter-spacing="0.2">150 fs</text>
<text x="261.0" y="162.8" font-size="12.5" text-anchor="start" fill="#d8282a" style="color:#d8282a" font-weight="bold" letter-spacing="0.2">400 fs</text>
<text x="0.5" y="271.6" font-size="10.4" text-anchor="start" fill="#000" style="color:#000" font-weight="normal">(c)</text>
<path d="M39.0,453.8 L39.8,453.5 L40.6,453.2 L41.4,452.8 L42.2,452.3 L43.0,451.8 L43.8,451.2 L44.6,450.4 L45.4,449.5 L46.2,448.5 L47.0,447.3 L47.8,446.0 L48.6,444.5 L49.4,442.8 L50.2,440.9 L51.0,438.8 L51.8,436.5 L52.6,434.0 L53.4,431.2 L54.2,428.2 L55.0,425.1 L55.8,421.7 L56.6,418.1 L57.4,414.4 L58.3,410.6 L59.1,406.7 L59.9,402.7 L60.7,398.7 L61.5,394.7 L62.3,390.8 L63.1,386.9 L63.9,383.3 L64.7,379.9 L65.5,376.7 L66.3,373.9 L67.1,371.4 L67.9,369.3 L68.7,367.7 L69.5,366.5 L70.3,365.7 L71.1,365.5 L71.9,365.7 L72.7,366.5 L73.5,367.7 L74.3,369.3 L75.1,371.4 L75.9,373.9 L76.7,376.7 L77.5,379.9 L78.3,383.3 L79.1,386.9 L79.9,390.8 L80.7,394.7 L81.5,398.7 L82.3,402.7 L83.1,406.7 L83.9,410.6 L84.8,414.4 L85.6,418.1 L86.4,421.7 L87.2,425.1 L88.0,428.2 L88.8,431.2 L89.6,434.0 L90.4,436.5 L91.2,438.8 L92.0,440.9 L92.8,442.8 L93.6,444.5 L94.4,446.0 L95.2,447.3 L96.0,448.5 L96.8,449.5 L97.6,450.4 L98.4,451.2 L99.2,451.8 L100.0,452.3 L100.8,452.8 L101.6,453.2 L102.4,453.5 L103.2,453.8 L104.0,454.0 L104.8,454.2 L105.6,454.3 L106.4,454.5 L107.2,454.6 L108.0,454.6 L108.8,454.7 L109.6,454.7 L110.4,454.8 L111.2,454.8 L112.1,454.8 L112.9,454.8 L113.7,454.9 L114.5,454.9 L115.3,454.9 L116.1,454.9 L116.9,454.9 L117.7,454.9 L118.5,454.9 L119.3,454.9 L120.1,454.9 L120.9,454.9 L121.7,454.9 L122.5,454.9 L123.3,454.9 L124.1,454.9 L124.9,454.9 L125.7,454.9 L126.5,454.9 L127.3,454.9 L128.1,454.9 L128.9,454.9 L129.7,454.9 L130.5,454.9 L131.3,454.9 L132.1,454.9 L132.9,454.9 L133.7,454.9 L134.5,454.9 L135.3,454.9 L136.1,454.9 L136.9,454.9 L137.7,454.9 L138.6,454.9 L139.4,454.9 L140.2,454.9 L141.0,454.9 L141.8,454.9 L142.6,454.9 L143.4,454.9 L144.2,454.9 L145.0,454.9 L145.8,454.9 L146.6,454.9 L147.4,454.9 L148.2,454.9 L149.0,454.9 L149.8,454.9 L150.6,454.9 L151.4,454.9 L151.4,454.9 L39.0,454.9 Z" fill="#d8d8d8" stroke="none"/>
<line x1="79.3" y1="392" x2="79.3" y2="454.9" stroke="#e2e2e2" stroke-width="0.7"/>
<path d="M39.0,453.8 L39.8,453.5 L40.6,453.2 L41.4,452.8 L42.2,452.3 L43.0,451.8 L43.8,451.2 L44.6,450.4 L45.4,449.5 L46.2,448.5 L47.0,447.3 L47.8,446.0 L48.6,444.5 L49.4,442.8 L50.2,440.9 L51.0,438.8 L51.8,436.5 L52.6,434.0 L53.4,431.2 L54.2,428.2 L55.0,425.1 L55.8,421.7 L56.6,418.1 L57.4,414.4 L58.3,410.6 L59.1,406.7 L59.9,402.7 L60.7,398.7 L61.5,394.7 L62.3,390.8 L63.1,386.9 L63.9,383.3 L64.7,379.9 L65.5,376.7 L66.3,373.9 L67.1,371.4 L67.9,369.3 L68.7,367.7 L69.5,366.5 L70.3,365.7 L71.1,365.5 L71.9,365.7 L72.7,366.5 L73.5,367.7 L74.3,369.3 L75.1,371.4 L75.9,373.9 L76.7,376.7 L77.5,379.9 L78.3,383.3 L79.1,386.9 L79.9,390.8 L80.7,394.7 L81.5,398.7 L82.3,402.7 L83.1,406.7 L83.9,410.6 L84.8,414.4 L85.6,418.1 L86.4,421.7 L87.2,425.1 L88.0,428.2 L88.8,431.2 L89.6,434.0 L90.4,436.5 L91.2,438.8 L92.0,440.9 L92.8,442.8 L93.6,444.5 L94.4,446.0 L95.2,447.3 L96.0,448.5 L96.8,449.5 L97.6,450.4 L98.4,451.2 L99.2,451.8 L100.0,452.3 L100.8,452.8 L101.6,453.2 L102.4,453.5 L103.2,453.8 L104.0,454.0 L104.8,454.2 L105.6,454.3 L106.4,454.5 L107.2,454.6 L108.0,454.6 L108.8,454.7 L109.6,454.7 L110.4,454.8 L111.2,454.8 L112.1,454.8 L112.9,454.8 L113.7,454.9 L114.5,454.9 L115.3,454.9 L116.1,454.9 L116.9,454.9 L117.7,454.9 L118.5,454.9 L119.3,454.9 L120.1,454.9 L120.9,454.9 L121.7,454.9 L122.5,454.9 L123.3,454.9 L124.1,454.9 L124.9,454.9 L125.7,454.9 L126.5,454.9 L127.3,454.9 L128.1,454.9 L128.9,454.9 L129.7,454.9 L130.5,454.9 L131.3,454.9 L132.1,454.9 L132.9,454.9 L133.7,454.9 L134.5,454.9 L135.3,454.9 L136.1,454.9 L136.9,454.9 L137.7,454.9 L138.6,454.9 L139.4,454.9 L140.2,454.9 L141.0,454.9 L141.8,454.9 L142.6,454.9 L143.4,454.9 L144.2,454.9 L145.0,454.9 L145.8,454.9 L146.6,454.9 L147.4,454.9 L148.2,454.9 L149.0,454.9 L149.8,454.9 L150.6,454.9 L151.4,454.9" fill="none" stroke="#b04848" stroke-width="1"/>
<line x1="32.5" y1="454.9" x2="35.6" y2="454.9" stroke="#555" stroke-width="0.9"/>
<text x="28.8" y="458.3" font-size="9.8" text-anchor="end" fill="#000" style="color:#000" font-weight="normal">0</text>
<line x1="32.5" y1="425.1" x2="35.6" y2="425.1" stroke="#555" stroke-width="0.9"/>
<text x="28.8" y="428.5" font-size="9.8" text-anchor="end" fill="#000" style="color:#000" font-weight="normal">10</text>
<line x1="32.5" y1="395.3" x2="35.6" y2="395.3" stroke="#555" stroke-width="0.9"/>
<text x="28.8" y="398.7" font-size="9.8" text-anchor="end" fill="#000" style="color:#000" font-weight="normal">20</text>
<line x1="32.5" y1="365.5" x2="35.6" y2="365.5" stroke="#555" stroke-width="0.9"/>
<text x="28.8" y="368.9" font-size="9.8" text-anchor="end" fill="#000" style="color:#000" font-weight="normal">30</text>
<line x1="32.5" y1="335.7" x2="35.6" y2="335.7" stroke="#555" stroke-width="0.9"/>
<text x="28.8" y="339.1" font-size="9.8" text-anchor="end" fill="#000" style="color:#000" font-weight="normal">40</text>
<line x1="32.5" y1="305.9" x2="35.6" y2="305.9" stroke="#555" stroke-width="0.9"/>
<text x="28.8" y="309.3" font-size="9.8" text-anchor="end" fill="#000" style="color:#000" font-weight="normal">50</text>
<line x1="32.5" y1="276.1" x2="35.6" y2="276.1" stroke="#555" stroke-width="0.9"/>
<text x="28.8" y="279.5" font-size="9.8" text-anchor="end" fill="#000" style="color:#000" font-weight="normal">60</text>
<line x1="39.0" y1="467" x2="39.0" y2="470" stroke="#555" stroke-width="0.9"/>
<text x="37.7" y="482.2" font-size="9.8" text-anchor="middle" fill="#000" style="color:#000" font-weight="normal">-200</text>
<line x1="71.1" y1="467" x2="71.1" y2="470" stroke="#555" stroke-width="0.9"/>
<text x="71.1" y="482.2" font-size="9.8" text-anchor="middle" fill="#000" style="color:#000" font-weight="normal">0</text>
<line x1="103.2" y1="467" x2="103.2" y2="470" stroke="#555" stroke-width="0.9"/>
<text x="101.9" y="482.2" font-size="9.8" text-anchor="middle" fill="#000" style="color:#000" font-weight="normal">200</text>
<line x1="135.3" y1="467" x2="135.3" y2="470" stroke="#555" stroke-width="0.9"/>
<text x="134.0" y="482.2" font-size="9.8" text-anchor="middle" fill="#000" style="color:#000" font-weight="normal">400</text>
<line x1="167.5" y1="467" x2="167.5" y2="470" stroke="#555" stroke-width="0.9"/>
<text x="166.2" y="482.2" font-size="9.8" text-anchor="middle" fill="#000" style="color:#000" font-weight="normal">600</text>
<path d="M35.5,256.5 V467.5 H167.8" fill="none" stroke="#555" stroke-width="1"/>
<text x="86.0" y="497.3" font-size="10.4" text-anchor="start" fill="#000" style="color:#000" font-weight="normal">delay time (fs)</text>
<text transform="translate(11.1,365.7) rotate(-90)" font-size="10.5" text-anchor="middle">VBM shift (meV)</text>
<path d="M71.1,331.4V354.2M68.5,331.4H73.7M68.5,354.2H73.7M79.1,257.5V277.2M76.5,277.2H81.7M87.2,266.3V299.8M84.6,266.3H89.8M84.6,299.8H89.8M95.2,319.5V342.2M92.6,319.5H97.8M92.6,342.2H97.8M103.2,347.0V369.8M100.6,347.0H105.8M100.6,369.8H105.8M111.2,327.8V350.6M108.7,327.8H113.8M108.7,350.6H113.8M119.3,355.7V373.7M116.7,355.7H121.9M116.7,373.7H121.9M127.3,357.3V374.8M124.7,357.3H129.9M124.7,374.8H129.9M135.3,356.2V374.2M132.7,356.2H137.9M132.7,374.2H137.9M143.4,382.5V396.2M140.8,382.5H146.0M140.8,396.2H146.0M151.4,370.4V385.8M148.8,370.4H154.0M148.8,385.8H154.0" fill="none" stroke="#96a0d2" stroke-width="0.9"/>
<path d="M63.1,454.9 L71.1,372.4 L79.1,314.2 L87.2,327.1 L95.2,337.5 L103.2,346.4 L111.2,356.3 L127.3,374.7 L143.4,390.5 L159.4,403.9" fill="none" stroke="#5ab85a" stroke-width="0.8"/>
<path d="M39.0,456.4 L47.0,448.0 L55.0,461.5 L63.1,452.5 L71.1,342.3 L79.1,257.6 L87.2,283.5 L95.2,331.5 L103.2,358.3 L111.2,339.9 L119.3,364.9 L127.3,366.1 L135.3,364.9 L143.4,389.6 L151.4,378.6" fill="none" stroke="#5060b0" stroke-width="0.8"/>
<circle cx="63.1" cy="454.9" r="2.35" fill="#44b05c" stroke="#2c7040" stroke-width="0.6"/>
<circle cx="71.1" cy="372.4" r="2.35" fill="#44b05c" stroke="#2c7040" stroke-width="0.6"/>
<circle cx="79.1" cy="314.2" r="2.35" fill="#44b05c" stroke="#2c7040" stroke-width="0.6"/>
<circle cx="87.2" cy="327.1" r="2.35" fill="#44b05c" stroke="#2c7040" stroke-width="0.6"/>
<circle cx="95.2" cy="337.5" r="2.35" fill="#44b05c" stroke="#2c7040" stroke-width="0.6"/>
<circle cx="103.2" cy="346.4" r="2.35" fill="#44b05c" stroke="#2c7040" stroke-width="0.6"/>
<circle cx="111.2" cy="356.3" r="2.35" fill="#44b05c" stroke="#2c7040" stroke-width="0.6"/>
<circle cx="127.3" cy="374.7" r="2.35" fill="#44b05c" stroke="#2c7040" stroke-width="0.6"/>
<circle cx="143.4" cy="390.5" r="2.35" fill="#44b05c" stroke="#2c7040" stroke-width="0.6"/>
<circle cx="159.4" cy="403.9" r="2.35" fill="#44b05c" stroke="#2c7040" stroke-width="0.6"/>
<circle cx="39.0" cy="456.4" r="2.5" fill="#3050a8" stroke="#1a2a6a" stroke-width="0.6"/>
<circle cx="47.0" cy="448.0" r="2.5" fill="#3050a8" stroke="#1a2a6a" stroke-width="0.6"/>
<circle cx="55.0" cy="461.5" r="2.5" fill="#3050a8" stroke="#1a2a6a" stroke-width="0.6"/>
<circle cx="63.1" cy="452.5" r="2.5" fill="#3050a8" stroke="#1a2a6a" stroke-width="0.6"/>
<circle cx="71.1" cy="342.3" r="2.5" fill="#3050a8" stroke="#1a2a6a" stroke-width="0.6"/>
<circle cx="79.1" cy="257.6" r="2.5" fill="#3050a8" stroke="#1a2a6a" stroke-width="0.6"/>
<circle cx="87.2" cy="283.5" r="2.5" fill="#3050a8" stroke="#1a2a6a" stroke-width="0.6"/>
<circle cx="95.2" cy="331.5" r="2.5" fill="#3050a8" stroke="#1a2a6a" stroke-width="0.6"/>
<circle cx="103.2" cy="358.3" r="2.5" fill="#3050a8" stroke="#1a2a6a" stroke-width="0.6"/>
<circle cx="111.2" cy="339.9" r="2.5" fill="#3050a8" stroke="#1a2a6a" stroke-width="0.6"/>
<circle cx="119.3" cy="364.9" r="2.5" fill="#3050a8" stroke="#1a2a6a" stroke-width="0.6"/>
<circle cx="127.3" cy="366.1" r="2.5" fill="#3050a8" stroke="#1a2a6a" stroke-width="0.6"/>
<circle cx="135.3" cy="364.9" r="2.5" fill="#3050a8" stroke="#1a2a6a" stroke-width="0.6"/>
<circle cx="143.4" cy="389.6" r="2.5" fill="#3050a8" stroke="#1a2a6a" stroke-width="0.6"/>
<circle cx="151.4" cy="378.6" r="2.5" fill="#3050a8" stroke="#1a2a6a" stroke-width="0.6"/>
<line x1="98.7" y1="260.4" x2="118.6" y2="260.4" stroke="#4a5aaa" stroke-width="0.9"/>
<circle cx="108.7" cy="260.4" r="2.9" fill="#3050a8" stroke="#1a2a6a" stroke-width="0.6"/>
<line x1="98.7" y1="272.4" x2="118.6" y2="272.4" stroke="#5ab85a" stroke-width="0.9"/>
<circle cx="108.7" cy="272.4" r="2.9" fill="#44b05c" stroke="#2c7040" stroke-width="0.6"/>
<rect x="104.3" y="281.2" width="9.3" height="6" fill="#d8d8d8" stroke="#b04848" stroke-width="0.9"/>
<text x="122.4" y="263.3" font-size="9" text-anchor="start" fill="#000" style="color:#000" font-weight="normal">experiment</text>
<text x="122.4" y="275.3" font-size="9" text-anchor="start" fill="#000" style="color:#000" font-weight="normal">theory (x 1.7)</text>
<text x="122.4" y="286.5" font-size="9" text-anchor="start" fill="#000" style="color:#000" font-weight="normal">Pump-probe</text>
<text x="124.9" y="299.7" font-size="9" text-anchor="start" fill="#000" style="color:#000" font-weight="normal">conv.</text>
<text x="215.3" y="271.3" font-size="10.4" text-anchor="start" fill="#000" style="color:#000" font-weight="normal">(d)</text>
<line x1="259" y1="259.4" x2="262.4" y2="259.4" stroke="#777" stroke-width="0.9"/>
<text x="256.6" y="262.8" font-size="9.8" text-anchor="end" fill="#000" style="color:#000" font-weight="normal">0</text>
<line x1="259" y1="296.6" x2="262.4" y2="296.6" stroke="#777" stroke-width="0.9"/>
<text x="256.6" y="300.0" font-size="9.8" text-anchor="end" fill="#000" style="color:#000" font-weight="normal">-10</text>
<line x1="259" y1="333.9" x2="262.4" y2="333.9" stroke="#777" stroke-width="0.9"/>
<text x="256.6" y="337.3" font-size="9.8" text-anchor="end" fill="#000" style="color:#000" font-weight="normal">-20</text>
<line x1="259" y1="371.1" x2="262.4" y2="371.1" stroke="#777" stroke-width="0.9"/>
<text x="256.6" y="374.5" font-size="9.8" text-anchor="end" fill="#000" style="color:#000" font-weight="normal">-30</text>
<line x1="259" y1="408.4" x2="262.4" y2="408.4" stroke="#777" stroke-width="0.9"/>
<text x="256.6" y="411.8" font-size="9.8" text-anchor="end" fill="#000" style="color:#000" font-weight="normal">-40</text>
<line x1="259" y1="445.6" x2="262.4" y2="445.6" stroke="#777" stroke-width="0.9"/>
<text x="256.6" y="449.0" font-size="9.8" text-anchor="end" fill="#000" style="color:#000" font-weight="normal">-50</text>
<line x1="277.2" y1="467.2" x2="277.2" y2="470.4" stroke="#555" stroke-width="0.9"/>
<text x="277.2" y="482.2" font-size="9.8" text-anchor="middle" fill="#000" style="color:#000" font-weight="normal">0</text>
<line x1="298.2" y1="467.2" x2="298.2" y2="469.2" stroke="#555" stroke-width="0.9"/>
<line x1="319.2" y1="467.2" x2="319.2" y2="470.4" stroke="#555" stroke-width="0.9"/>
<text x="317.9" y="482.2" font-size="9.8" text-anchor="middle" fill="#000" style="color:#000" font-weight="normal">200</text>
<line x1="340.3" y1="467.2" x2="340.3" y2="469.2" stroke="#555" stroke-width="0.9"/>
<line x1="361.3" y1="467.2" x2="361.3" y2="470.4" stroke="#555" stroke-width="0.9"/>
<text x="360.0" y="482.2" font-size="9.8" text-anchor="middle" fill="#000" style="color:#000" font-weight="normal">400</text>
<line x1="382.3" y1="467.2" x2="382.3" y2="469.2" stroke="#555" stroke-width="0.9"/>
<path d="M262.5,259 V467.5 H392.5" fill="none" stroke="#8a8a8a" stroke-width="1"/>
<text x="309.0" y="497.5" font-size="10.2" text-anchor="start" fill="#000" style="color:#000" font-weight="normal">delay time (fs)</text>
<text transform="translate(225.9,364.95) rotate(-90)" font-size="10.6" text-anchor="middle">BGR (meV)</text>
<path d="M266.7,259.4 L277.2,373.7 L287.7,463.1 L298.2,445.6 L308.7,431.8 L319.2,420.3 L329.8,406.9 L350.8,380.4 L371.8,358.5 L392.8,339.1" fill="none" stroke="#f05050" stroke-width="0.8"/>
<circle cx="266.7" cy="259.4" r="3.5" fill="#e8222c"/>
<circle cx="277.2" cy="373.7" r="3.5" fill="#e8222c"/>
<circle cx="287.7" cy="463.1" r="3.5" fill="#e8222c"/>
<circle cx="298.2" cy="445.6" r="3.5" fill="#e8222c"/>
<circle cx="308.7" cy="431.8" r="3.5" fill="#e8222c"/>
<circle cx="319.2" cy="420.3" r="3.5" fill="#e8222c"/>
<circle cx="329.8" cy="406.9" r="3.5" fill="#e8222c"/>
<circle cx="350.8" cy="380.4" r="3.5" fill="#e8222c"/>
<circle cx="371.8" cy="358.5" r="3.5" fill="#e8222c"/>
<circle cx="392.8" cy="339.1" r="3.5" fill="#e8222c"/>
</svg></body></html>
